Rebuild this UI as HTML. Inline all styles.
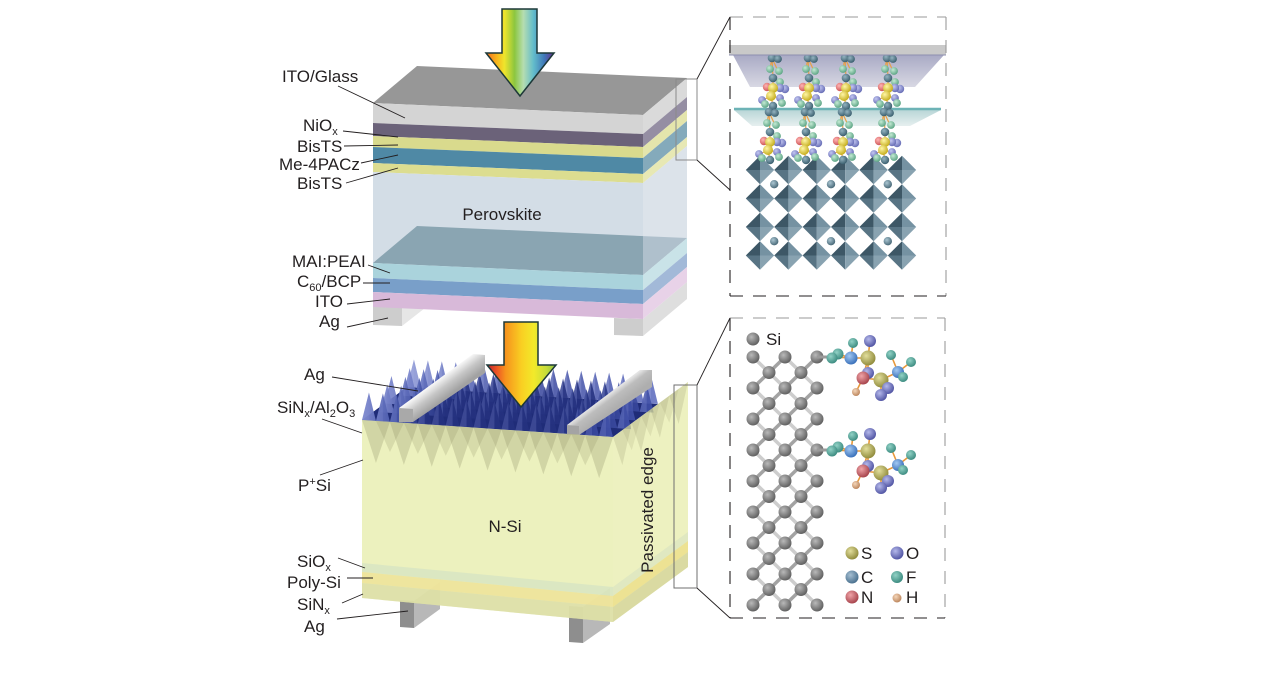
<!DOCTYPE html>
<html><head><meta charset="utf-8">
<style>
html,body{margin:0;padding:0;background:#fff;width:1268px;height:681px;overflow:hidden}
svg{display:block}
text{font-family:"Liberation Sans",Arial,sans-serif;fill:#231f20;font-size:17px}
</style></head>
<body>
<svg width="1268" height="681" viewBox="0 0 1268 681" xmlns="http://www.w3.org/2000/svg">
<defs>
  <linearGradient id="arrTop" gradientUnits="userSpaceOnUse" x1="486" y1="0" x2="554" y2="0">
    <stop offset="0" stop-color="#f26a22"/><stop offset="0.15" stop-color="#f7b21b"/>
    <stop offset="0.27" stop-color="#efe52c"/><stop offset="0.42" stop-color="#8cc63f"/>
    <stop offset="0.55" stop-color="#b5ddb0"/><stop offset="0.7" stop-color="#62bccb"/>
    <stop offset="0.86" stop-color="#3f77b8"/><stop offset="1" stop-color="#6a2c8f"/>
  </linearGradient>
  <linearGradient id="arrBot" gradientUnits="userSpaceOnUse" x1="487" y1="0" x2="556" y2="0">
    <stop offset="0" stop-color="#be1e2d"/><stop offset="0.15" stop-color="#ee5a24"/>
    <stop offset="0.27" stop-color="#f6941d"/><stop offset="0.5" stop-color="#f9cf22"/>
    <stop offset="0.68" stop-color="#f2ea2a"/><stop offset="0.86" stop-color="#c6dc3a"/>
    <stop offset="1" stop-color="#8dc63f"/>
  </linearGradient>
  <linearGradient id="pyr" gradientUnits="userSpaceOnUse" x1="0" y1="0" x2="251" y2="0">
    <stop offset="0" stop-color="#7f8acf"/><stop offset="0.13" stop-color="#4a5aad"/>
    <stop offset="0.26" stop-color="#24317f"/><stop offset="0.78" stop-color="#24317f"/>
    <stop offset="1" stop-color="#4252aa"/>
  </linearGradient>
  <linearGradient id="pyrL" gradientUnits="userSpaceOnUse" x1="0" y1="0" x2="251" y2="0">
    <stop offset="0" stop-color="#8c97d6"/><stop offset="0.2" stop-color="#5766b8"/>
    <stop offset="0.5" stop-color="#34429a"/><stop offset="1" stop-color="#5a69bd"/>
  </linearGradient>
  <linearGradient id="bar1" gradientUnits="userSpaceOnUse" x1="399" y1="408" x2="410.7" y2="423.8">
    <stop offset="0" stop-color="#fbfbfb"/><stop offset="0.5" stop-color="#c6c6c6"/><stop offset="1" stop-color="#a2a2a2"/>
  </linearGradient>
  <linearGradient id="bar2" gradientUnits="userSpaceOnUse" x1="567" y1="425" x2="576" y2="437.2">
    <stop offset="0" stop-color="#e4e4e4"/><stop offset="0.35" stop-color="#bdbdbd"/><stop offset="1" stop-color="#aeaeae"/>
  </linearGradient>
  <linearGradient id="plate1" x1="0" y1="0" x2="0" y2="1">
    <stop offset="0" stop-color="#a9aac5"/><stop offset="1" stop-color="#d8d8e3"/>
  </linearGradient>
  <linearGradient id="plate2" x1="0" y1="0" x2="0" y2="1">
    <stop offset="0" stop-color="#b9d6d7"/><stop offset="1" stop-color="#e6efef"/>
  </linearGradient>
  <radialGradient id="rSi" cx="0.38" cy="0.35" r="0.65"><stop offset="0" stop-color="#b9b9b9"/><stop offset="1" stop-color="#626262"/></radialGradient>
  <radialGradient id="rF" cx="0.38" cy="0.35" r="0.65"><stop offset="0" stop-color="#92d2c6"/><stop offset="1" stop-color="#3e8d82"/></radialGradient>
  <radialGradient id="rC" cx="0.38" cy="0.35" r="0.65"><stop offset="0" stop-color="#a2c8f2"/><stop offset="1" stop-color="#3c72bb"/></radialGradient>
  <radialGradient id="rCl" cx="0.38" cy="0.35" r="0.65"><stop offset="0" stop-color="#a6bfd2"/><stop offset="1" stop-color="#4c7290"/></radialGradient>
  <radialGradient id="rO" cx="0.38" cy="0.35" r="0.65"><stop offset="0" stop-color="#b4b8ea"/><stop offset="1" stop-color="#5357a5"/></radialGradient>
  <radialGradient id="rS" cx="0.38" cy="0.35" r="0.65"><stop offset="0" stop-color="#e2de9c"/><stop offset="1" stop-color="#928d3e"/></radialGradient>
  <radialGradient id="rN" cx="0.38" cy="0.35" r="0.65"><stop offset="0" stop-color="#f0a4a8"/><stop offset="1" stop-color="#a8464e"/></radialGradient>
  <radialGradient id="rH" cx="0.38" cy="0.35" r="0.65"><stop offset="0" stop-color="#f4d6ba"/><stop offset="1" stop-color="#bd875e"/></radialGradient>
  <radialGradient id="rDT" cx="0.38" cy="0.35" r="0.65"><stop offset="0" stop-color="#93b3c0"/><stop offset="1" stop-color="#3c6070"/></radialGradient>
  <radialGradient id="rG" cx="0.38" cy="0.35" r="0.65"><stop offset="0" stop-color="#c4ead4"/><stop offset="1" stop-color="#5ea686"/></radialGradient>
  <radialGradient id="rY" cx="0.38" cy="0.35" r="0.65"><stop offset="0" stop-color="#fff6a6"/><stop offset="1" stop-color="#c6ae1e"/></radialGradient>
  <radialGradient id="rP" cx="0.38" cy="0.35" r="0.65"><stop offset="0" stop-color="#c4c8f2"/><stop offset="1" stop-color="#686eb6"/></radialGradient>
  <radialGradient id="rR" cx="0.38" cy="0.35" r="0.65"><stop offset="0" stop-color="#ffb4b4"/><stop offset="1" stop-color="#cf5858"/></radialGradient>
  <radialGradient id="rOs" cx="0.38" cy="0.35" r="0.65"><stop offset="0" stop-color="#abc6d2"/><stop offset="1" stop-color="#4a6a79"/></radialGradient>

  <path id="zz" d="M0,0 l6.97,-27.53 6.97,28.47 6.97,-27.53 6.97,28.47 6.97,-27.53 6.97,28.47 6.97,-27.53 6.97,28.47 6.97,-27.53 6.97,28.47 6.97,-27.53 6.97,28.47 6.97,-27.53 6.97,28.47 6.97,-27.53 6.97,28.47 6.97,-27.53 6.97,28.47 6.97,-27.53 6.97,28.47 6.97,-27.53 6.97,28.47 6.97,-27.53 6.97,28.47 6.97,-27.53 6.97,28.47 6.97,-27.53 6.97,28.47 6.97,-27.53 6.97,28.47 6.97,-27.53 6.97,28.47 6.97,-27.53 6.97,28.47 6.97,-27.53 6.97,28.47 Z"/>
  <path id="zf" d="M0,0 l6.97,-27.53 0,28 z m13.94,0.944 l6.97,-27.53 0,28 z m13.94,0.944 l6.97,-27.53 0,28 z m13.94,0.944 l6.97,-27.53 0,28 z m13.94,0.944 l6.97,-27.53 0,28 z m13.94,0.944 l6.97,-27.53 0,28 z m13.94,0.944 l6.97,-27.53 0,28 z m13.94,0.944 l6.97,-27.53 0,28 z m13.94,0.944 l6.97,-27.53 0,28 z m13.94,0.944 l6.97,-27.53 0,28 z m13.94,0.944 l6.97,-27.53 0,28 z m13.94,0.944 l6.97,-27.53 0,28 z m13.94,0.944 l6.97,-27.53 0,28 z m13.94,0.944 l6.97,-27.53 0,28 z m13.94,0.944 l6.97,-27.53 0,28 z m13.94,0.944 l6.97,-27.53 0,28 z m13.94,0.944 l6.97,-27.53 0,28 z m13.94,0.944 l6.97,-27.53 0,28 z"/>

  <g id="oct">
    <polygon points="0,0 -14.2,0 0,-14.2" fill="#3d5766"/>
    <polygon points="0,0 0,-14.2 14.2,0" fill="#7592a2"/>
    <polygon points="0,0 -14.2,0 0,14.2" fill="#587484"/>
    <polygon points="0,0 14.2,0 0,14.2" fill="#89a3b1"/>
  </g>

  <g id="seg">
    <path d="M0,0 L1,20 L1,30 L-1,38 L1,48 M1,30 L-5,29 M1,30 L7,30 M-1,38 L-9,42 M-1,38 L8,40 M1,20 L7,24 M0,0 L-2,11 M0,0 L6,13" stroke="#e8a048" stroke-width="1.2" fill="none"/>
    <circle cx="0" cy="0" r="4.3" fill="url(#rDT)"/>
    <circle cx="6" cy="1" r="3.9" fill="url(#rDT)"/>
    <circle cx="-2" cy="11" r="3.9" fill="url(#rG)"/>
    <circle cx="7" cy="13" r="3.9" fill="url(#rG)"/>
    <circle cx="1" cy="20" r="4.3" fill="url(#rDT)"/>
    <circle cx="8" cy="24" r="3.9" fill="url(#rG)"/>
    <circle cx="-5" cy="29" r="4.2" fill="url(#rR)"/>
    <circle cx="13" cy="31" r="4.2" fill="url(#rP)"/>
    <circle cx="8" cy="30" r="4.2" fill="url(#rP)"/>
    <circle cx="1" cy="30" r="5" fill="url(#rY)"/>
    <circle cx="-10" cy="42" r="3.9" fill="url(#rP)"/>
    <circle cx="8" cy="40" r="3.9" fill="url(#rP)"/>
    <circle cx="-1" cy="38" r="5" fill="url(#rY)"/>
    <circle cx="-7" cy="46" r="3.9" fill="url(#rG)"/>
    <circle cx="10" cy="45" r="3.9" fill="url(#rG)"/>
    <circle cx="1" cy="48" r="4.2" fill="url(#rDT)"/>
  </g>

  <circle id="si" r="6.5" fill="url(#rSi)"/>

  <g id="tfsi">
    <line x1="817" y1="357" x2="832" y2="357" stroke="#9a9a9a" stroke-width="3"/>
    <path d="M851,358 L833,357 M851,358 L853,343 M851,358 L838,354 M851,358 L868,358 M868,358 L870,341 M868,358 L868,373 M868,358 L863,378 M863,378 L856,392 M863,378 L881,380 M881,380 L888,388 M881,380 L881,395 M881,380 L898,372 M898,372 L891,355 M898,372 L911,362 M898,372 L903,377" stroke="#e8983a" stroke-width="1.6" fill="none"/>
    <circle cx="868" cy="373" r="6" fill="url(#rO)"/>
    <circle cx="838" cy="354" r="5.5" fill="url(#rF)"/>
    <circle cx="832" cy="358" r="5.5" fill="url(#rF)"/>
    <circle cx="853" cy="343" r="5" fill="url(#rF)"/>
    <circle cx="851" cy="358" r="6.5" fill="url(#rC)"/>
    <circle cx="870" cy="341" r="6" fill="url(#rO)"/>
    <circle cx="868" cy="358" r="7.5" fill="url(#rS)"/>
    <circle cx="856" cy="392" r="4" fill="url(#rH)"/>
    <circle cx="863" cy="378" r="6.5" fill="url(#rN)"/>
    <circle cx="891" cy="355" r="5" fill="url(#rF)"/>
    <circle cx="911" cy="362" r="5" fill="url(#rF)"/>
    <circle cx="898" cy="372" r="6" fill="url(#rC)"/>
    <circle cx="903" cy="377" r="5" fill="url(#rF)"/>
    <circle cx="881" cy="380" r="7.5" fill="url(#rS)"/>
    <circle cx="888" cy="388" r="6" fill="url(#rO)"/>
    <circle cx="881" cy="395" r="6" fill="url(#rO)"/>
  </g>
</defs>

<rect width="1268" height="681" fill="#fff"/>

<!-- ============ TOP STACK ============ -->
<polygon points="373,306 402,307 402,326 373,325" fill="#cdcdcd"/>
<polygon points="402,308 425,308 402,326" fill="#e6e6e6"/>
<polygon points="614,318 643,319 643,336 614,335" fill="#cdcdcd"/>
<polygon points="643,319 687,282 687,299 643,336" fill="#dedede"/>

<polygon points="373,103 417,66 687,78 643,115" fill="#979797"/>
<polygon points="373,103 643,115 643,134 373,123" fill="#d4d4d4"/>
<polygon points="643,115 687,78 687,97 643,134" fill="#dadada"/>
<polygon points="373,123 643,134 643,147 373,136" fill="#6b6279"/>
<polygon points="643,134 687,97 687,110 643,147" fill="#958ea3"/>
<polygon points="373,136 643,147 643,158 373,147" fill="#d9da8d"/>
<polygon points="643,147 687,110 687,121 643,158" fill="#e4e5ac"/>
<polygon points="373,147 643,158 643,174 373,163" fill="#4f89a5"/>
<polygon points="643,158 687,121 687,137 643,174" fill="#84aabb"/>
<polygon points="373,163 643,174 643,183 373,172" fill="#dcdd90"/>
<polygon points="643,174 687,137 687,146 643,183" fill="#e7e8b4"/>
<polygon points="373,172 643,183 643,275 373,263" fill="#d3dde6"/>
<polygon points="643,183 687,146 687,238 643,275" fill="#dce3ea"/>
<polygon points="373,263 417,226 687,238 643,275" fill="#8aa5b2"/>
<polygon points="643,183 687,146 687,238 643,275" fill="#dce3ea" opacity="0.45"/>
<polygon points="373,263 643,275 643,290 373,278" fill="#aad3dc"/>
<polygon points="643,275 687,238 687,253 643,290" fill="#c9e3e8"/>
<polygon points="373,278 643,290 643,304 373,292" fill="#799fc9"/>
<polygon points="643,290 687,253 687,267 643,304" fill="#a2b9d8"/>
<polygon points="373,292 643,304 643,319 373,307" fill="#d8b9d9"/>
<polygon points="643,304 687,267 687,282 643,319" fill="#e8d2e8"/>

<!-- top arrow -->
<polygon points="502,9 537,9 537,53 554,53 520,96 486,53 502,53" fill="url(#arrTop)" stroke="#1d3838" stroke-width="1.5"/>

<!-- top labels -->
<g stroke="#231f20" stroke-width="0.9" fill="none">
  <line x1="338" y1="86" x2="405" y2="118"/>
  <line x1="343" y1="131" x2="398" y2="137"/>
  <line x1="344" y1="146" x2="398" y2="145"/>
  <line x1="361" y1="163" x2="398" y2="155"/>
  <line x1="346" y1="183" x2="398" y2="168"/>
  <line x1="368" y1="265" x2="390" y2="273"/>
  <line x1="363" y1="283" x2="390" y2="283"/>
  <line x1="347" y1="304" x2="390" y2="299"/>
  <line x1="347" y1="327" x2="388" y2="318"/>
</g>
<text x="282" y="82">ITO/Glass</text>
<text x="303" y="131">NiO<tspan font-size="11" dy="4">x</tspan></text>
<text x="297" y="152">BisTS</text>
<text x="279" y="170">Me-4PACz</text>
<text x="297" y="189">BisTS</text>
<text x="502" y="220" text-anchor="middle">Perovskite</text>
<text x="292" y="267">MAI:PEAI</text>
<text x="297" y="287">C<tspan font-size="11" dy="4">60</tspan><tspan dy="-4">/BCP</tspan></text>
<text x="315" y="307">ITO</text>
<text x="319" y="327">Ag</text>

<!-- top bracket -->
<rect x="676" y="79" width="21" height="81" fill="none" stroke="#8a8a8a" stroke-width="1"/>
<line x1="697" y1="79" x2="730" y2="17" stroke="#231f20" stroke-width="0.9"/>
<line x1="697" y1="160" x2="730" y2="190" stroke="#231f20" stroke-width="0.9"/>

<!-- ============ TOP-RIGHT PANEL ============ -->
<polygon points="733,55 944,55 915,87 750,87" fill="url(#plate1)"/>
<polygon points="734,110 941,110 910,126 752,126" fill="url(#plate2)"/>
<line x1="734" y1="109" x2="941" y2="109" stroke="#6db3b6" stroke-width="2.5"/>

<use href="#oct" x="760" y="170"/><use href="#oct" x="788.4" y="170"/><use href="#oct" x="816.8" y="170"/><use href="#oct" x="845.2" y="170"/><use href="#oct" x="873.6" y="170"/><use href="#oct" x="902" y="170"/>
<use href="#oct" x="760" y="198.5"/><use href="#oct" x="788.4" y="198.5"/><use href="#oct" x="816.8" y="198.5"/><use href="#oct" x="845.2" y="198.5"/><use href="#oct" x="873.6" y="198.5"/><use href="#oct" x="902" y="198.5"/>
<use href="#oct" x="760" y="227"/><use href="#oct" x="788.4" y="227"/><use href="#oct" x="816.8" y="227"/><use href="#oct" x="845.2" y="227"/><use href="#oct" x="873.6" y="227"/><use href="#oct" x="902" y="227"/>
<use href="#oct" x="760" y="255.5"/><use href="#oct" x="788.4" y="255.5"/><use href="#oct" x="816.8" y="255.5"/><use href="#oct" x="845.2" y="255.5"/><use href="#oct" x="873.6" y="255.5"/><use href="#oct" x="902" y="255.5"/>
<circle cx="774.2" cy="184.2" r="4.2" fill="url(#rOs)"/><circle cx="831" cy="184.2" r="4.2" fill="url(#rOs)"/><circle cx="887.8" cy="184.2" r="4.2" fill="url(#rOs)"/>
<circle cx="774.2" cy="241.2" r="4.2" fill="url(#rOs)"/><circle cx="831" cy="241.2" r="4.2" fill="url(#rOs)"/><circle cx="887.8" cy="241.2" r="4.2" fill="url(#rOs)"/>

<use href="#seg" x="772" y="58"/><use href="#seg" x="808" y="58"/><use href="#seg" x="845" y="58"/><use href="#seg" x="887" y="58"/>
<use href="#seg" x="769" y="112"/><use href="#seg" x="805" y="112"/><use href="#seg" x="842" y="112"/><use href="#seg" x="884" y="112"/>

<rect x="729" y="45" width="217" height="10" fill="#c9c9c9"/>
<line x1="729" y1="55" x2="946" y2="55" stroke="#8d8fb0" stroke-width="1"/>

<g stroke-width="1.1" stroke-dasharray="13 10" fill="none">
  <line x1="730" y1="17" x2="946" y2="17" stroke="#9a9a9a"/>
  <line x1="946" y1="17" x2="946" y2="296" stroke="#9a9a9a"/>
  <line x1="730" y1="17" x2="730" y2="296" stroke="#231f20"/>
  <line x1="730" y1="296" x2="946" y2="296" stroke="#231f20"/>
</g>

<!-- ============ BOTTOM SI CELL ============ -->
<polygon points="400,600 414,601 414,628 400,627" fill="#8e8e8e"/>
<polygon points="414,601 440,582 440,609 414,628" fill="#b8b8b8"/>
<polygon points="569,606 583,607 583,643 569,642" fill="#8e8e8e"/>
<polygon points="583,607 610,588 610,624 583,643" fill="#b8b8b8"/>

<polygon points="362,420 613,437 658,404 407,387" fill="#1f2c78"/>
<g>
  <use href="#zz" transform="translate(407,387)" fill="url(#pyrL)" fill-opacity="0.85"/>
  <use href="#zf" transform="translate(407,387)" fill="#a0aadf" fill-opacity="0.35"/>
  <use href="#zz" transform="translate(402.75,395.7)" fill="url(#pyr)" fill-opacity="0.88"/>
  <use href="#zf" transform="translate(402.75,395.7)" fill="#7f8bd0" fill-opacity="0.33"/>
  <use href="#zz" transform="translate(384.5,403.5)" fill="url(#pyr)" fill-opacity="0.9"/>
  <use href="#zf" transform="translate(384.5,403.5)" fill="#7f8bd0" fill-opacity="0.3"/>
  <use href="#zz" transform="translate(380.25,412.2)" fill="url(#pyr)" fill-opacity="0.92"/>
  <use href="#zf" transform="translate(380.25,412.2)" fill="#7f8bd0" fill-opacity="0.28"/>
  <use href="#zz" transform="translate(362,420)" fill="url(#pyr)" fill-opacity="0.95"/>
  <use href="#zf" transform="translate(362,420)" fill="#7f8bd0" fill-opacity="0.25"/>
</g>

<!-- top Ag bars -->
<polygon points="399,408 473,354 485,355 485,373 413,422 399,422" fill="url(#bar1)"/>
<polygon points="399,408 413,409 413,422 399,422" fill="#a9a9a9"/>
<polygon points="567,425 640,370 652,370 652,387 579,435 567,435" fill="url(#bar2)"/>
<polygon points="567,425 579,426 579,435 567,435" fill="#a4a4a4"/>

<!-- bottom arrow -->
<polygon points="504,322 538,322 538,365 556,365 521,407 487,365 504,365" fill="url(#arrBot)" stroke="#1d3838" stroke-width="1.5"/>

<!-- Si body -->
<polygon points="362,420 613,437 613,622 362,598" fill="#e6eca8" fill-opacity="0.75"/>
<polygon points="613,437 688,382 688,567 613,622" fill="#e6eca8" fill-opacity="0.72"/>
<path d="M362,420 l13.95,42.95 13.95,-41.05 13.95,42.95 13.95,-41.05 13.95,42.95 13.95,-41.05 13.95,42.95 13.95,-41.05 13.95,42.95 13.95,-41.05 13.95,42.95 13.95,-41.05 13.95,42.95 13.95,-41.05 13.95,42.95 13.95,-41.05 13.95,42.95 13.95,-41.05 Z" fill="#8c8c64" fill-opacity="0.28"/>
<path d="M376,421 l13.95,30.95 13.95,-29.05 13.95,30.95 13.95,-29.05 13.95,30.95 13.95,-29.05 13.95,30.95 13.95,-29.05 13.95,30.95 13.95,-29.05 13.95,30.95 13.95,-29.05 13.95,30.95 13.95,-29.05 13.95,30.95 13.95,-29.05 Z" fill="#8c8c64" fill-opacity="0.22"/>
<path d="M613,437 l9.375,28.125 9.375,-41.875 9.375,28.125 9.375,-41.875 9.375,28.125 9.375,-41.875 9.375,28.125 9.375,-41.875 Z" fill="#8c8c64" fill-opacity="0.2"/>
<path d="M622.4,430.1 l9.375,20 9.375,-33.75 9.375,20 9.375,-33.75 9.375,20 9.375,-33.75 Z" fill="#8c8c64" fill-opacity="0.16"/>

<polygon points="362,563 613,587 613,596 362,572" fill="#d7e5c3" fill-opacity="0.8"/>
<polygon points="362,572 613,596 613,607 362,583" fill="#eee39a" fill-opacity="0.9"/>
<polygon points="362,583 613,607 613,622 362,598" fill="#dcdda6" fill-opacity="0.8"/>
<polygon points="613,587 688,532 688,541 613,596" fill="#dce6c0" fill-opacity="0.8"/>
<polygon points="613,596 688,541 688,552 613,607" fill="#ece08e" fill-opacity="0.9"/>
<polygon points="613,607 688,552 688,567 613,622" fill="#d6d69c" fill-opacity="0.85"/>

<!-- bottom labels -->
<g stroke="#231f20" stroke-width="0.9" fill="none">
  <line x1="332" y1="377" x2="418" y2="391"/>
  <line x1="322" y1="419" x2="362" y2="433"/>
  <line x1="320" y1="475" x2="363" y2="460"/>
  <line x1="338" y1="558" x2="365" y2="568"/>
  <line x1="347" y1="578" x2="373" y2="578"/>
  <line x1="342" y1="603" x2="363" y2="594"/>
  <line x1="337" y1="619" x2="408" y2="611"/>
</g>
<text x="304" y="380">Ag</text>
<text x="277" y="413">SiN<tspan font-size="11" dy="4">x</tspan><tspan dy="-4">/Al</tspan><tspan font-size="11" dy="4">2</tspan><tspan dy="-4">O</tspan><tspan font-size="11" dy="4">3</tspan></text>
<text x="298" y="491">P<tspan font-size="11" dy="-6">+</tspan><tspan dy="6">Si</tspan></text>
<text x="505" y="532" text-anchor="middle">N-Si</text>
<text x="297" y="567">SiO<tspan font-size="11" dy="4">x</tspan></text>
<text x="287" y="588">Poly-Si</text>
<text x="297" y="610">SiN<tspan font-size="11" dy="4">x</tspan></text>
<text x="304" y="632">Ag</text>
<text transform="translate(653,510) rotate(-90)" text-anchor="middle">Passivated edge</text>

<!-- bottom bracket -->
<rect x="674" y="385" width="23" height="203" fill="none" stroke="#6f6f6f" stroke-width="1"/>
<line x1="697" y1="385" x2="730" y2="318" stroke="#231f20" stroke-width="0.9"/>
<line x1="697" y1="588" x2="730" y2="618" stroke="#231f20" stroke-width="0.9"/>

<!-- ============ BOTTOM-RIGHT PANEL ============ -->
<g stroke-width="1.1" stroke-dasharray="13 10" fill="none">
  <line x1="730" y1="318" x2="945" y2="318" stroke="#9a9a9a"/>
  <line x1="945" y1="318" x2="945" y2="618" stroke="#9a9a9a"/>
  <line x1="730" y1="318" x2="730" y2="618" stroke="#231f20"/>
  <line x1="730" y1="618" x2="945" y2="618" stroke="#231f20"/>
</g>

<g stroke-width="3.5" stroke-linecap="round" fill="none">
  <path stroke="#cdcdcd" d="M785,357 L817,388 M753,357 L817,419 M753,388 L817,450 M753,419 L817,481 M753,450 L817,512 M753,481 L817,543 M753,512 L817,574 M753,543 L817,605 M753,574 L785,605"/>
  <path stroke="#a3a3a3" d="M785,357 L753,388 M817,357 L753,419 M817,388 L753,450 M817,419 L753,481 M817,450 L753,512 M817,481 L753,543 M817,512 L753,574 M817,543 L753,605 M817,574 L785,605"/>
</g>
<g>
  <use href="#si" x="753" y="357"/><use href="#si" x="785" y="357"/><use href="#si" x="817" y="357"/>
  <use href="#si" x="753" y="388"/><use href="#si" x="785" y="388"/><use href="#si" x="817" y="388"/>
  <use href="#si" x="753" y="419"/><use href="#si" x="785" y="419"/><use href="#si" x="817" y="419"/>
  <use href="#si" x="753" y="450"/><use href="#si" x="785" y="450"/><use href="#si" x="817" y="450"/>
  <use href="#si" x="753" y="481"/><use href="#si" x="785" y="481"/><use href="#si" x="817" y="481"/>
  <use href="#si" x="753" y="512"/><use href="#si" x="785" y="512"/><use href="#si" x="817" y="512"/>
  <use href="#si" x="753" y="543"/><use href="#si" x="785" y="543"/><use href="#si" x="817" y="543"/>
  <use href="#si" x="753" y="574"/><use href="#si" x="785" y="574"/><use href="#si" x="817" y="574"/>
  <use href="#si" x="753" y="605"/><use href="#si" x="785" y="605"/><use href="#si" x="817" y="605"/>
  <use href="#si" x="769" y="372.5"/><use href="#si" x="801" y="372.5"/>
  <use href="#si" x="769" y="403.5"/><use href="#si" x="801" y="403.5"/>
  <use href="#si" x="769" y="434.5"/><use href="#si" x="801" y="434.5"/>
  <use href="#si" x="769" y="465.5"/><use href="#si" x="801" y="465.5"/>
  <use href="#si" x="769" y="496.5"/><use href="#si" x="801" y="496.5"/>
  <use href="#si" x="769" y="527.5"/><use href="#si" x="801" y="527.5"/>
  <use href="#si" x="769" y="558.5"/><use href="#si" x="801" y="558.5"/>
  <use href="#si" x="769" y="589.5"/><use href="#si" x="801" y="589.5"/>
</g>

<use href="#tfsi"/>
<use href="#tfsi" transform="translate(0,93)"/>

<use href="#si" x="753" y="339"/>
<text x="766" y="345">Si</text>

<circle cx="852" cy="553" r="6.5" fill="url(#rS)"/><text x="861" y="559">S</text>
<circle cx="897" cy="553" r="6.5" fill="url(#rO)"/><text x="906" y="559">O</text>
<circle cx="852" cy="577" r="6.5" fill="url(#rCl)"/><text x="861" y="583">C</text>
<circle cx="897" cy="577" r="6" fill="url(#rF)"/><text x="906" y="583">F</text>
<circle cx="852" cy="597" r="6.5" fill="url(#rN)"/><text x="861" y="603">N</text>
<circle cx="897" cy="598" r="4.5" fill="url(#rH)"/><text x="906" y="603">H</text>

</svg>
</body></html>
